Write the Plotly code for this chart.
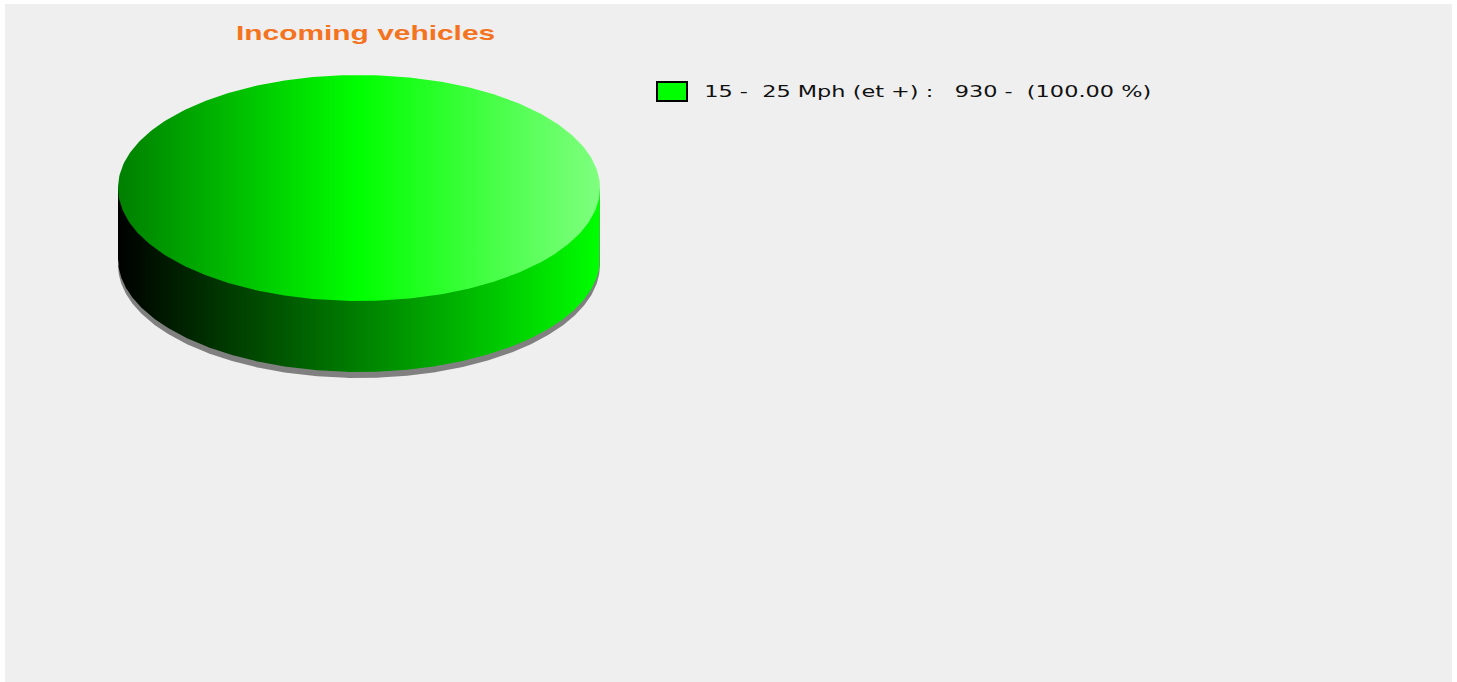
import numpy as np
import plotly.graph_objects as go

# --- data ---
categories = ["15 -  25 Mph (et +)"]
values = [930]
title_text = "Incoming vehicles"
slice_colors = ["#00ff00"]

# --- layout constants (pixels) ---
W, H = 1457, 682
CX, CY, RX, RY = 359, 188, 241, 113
DEPTH, SHADOW = 71, 6
TEXT_STRETCH = 1.495

total = sum(values)
shares = [v / total for v in values]


def arc(start, sweep, cy):
    t = np.linspace(start, start + sweep, 361)
    return CX + RX * np.cos(t), cy + RY * np.sin(t)


fig = go.Figure()
start = 0.0
for cat, share, col in zip(categories, shares, slice_colors):
    sweep = 2 * np.pi * share
    base = dict(mode="lines", line=dict(width=0), hoverinfo="skip",
                showlegend=False, fill="toself")

    # shadow under the disc
    bx, by = arc(0, np.pi, CY + DEPTH + SHADOW)
    fig.add_trace(go.Scatter(x=np.r_[bx, bx[0]], y=np.r_[by, CY], fillcolor="#808080", **base))

    # side wall
    sx, sy = arc(0, np.pi, CY + DEPTH)
    fig.add_trace(go.Scatter(
        x=np.r_[CX + RX, sx, CX - RX], y=np.r_[CY, sy, CY],
        fillgradient=dict(type="horizontal",
                          colorscale=[[0, "#000000"], [1, col]]),
        **base))

    # top face
    tx, ty = arc(start, sweep, CY)
    fig.add_trace(go.Scatter(
        x=tx, y=ty,
        fillgradient=dict(type="horizontal",
                          colorscale=[[0, "#007f00"], [0.5, col], [1, "#80ff80"]]),
        **base))
    start += sweep

fig.update_layout(
    width=W, height=H, autosize=False,
    margin=dict(l=0, r=0, t=0, b=0),
    paper_bgcolor="#ffffff", plot_bgcolor="#ffffff",
    xaxis=dict(range=[0, W], visible=False, fixedrange=True),
    yaxis=dict(range=[H, 0], visible=False, fixedrange=True),
    showlegend=False,
    shapes=[
        dict(type="rect", layer="below", x0=5, x1=1452, y0=4, y1=682,
             fillcolor="#efefef", line=dict(width=0)),
        dict(type="rect", x0=657, x1=687, y0=82, y1=101,
             fillcolor=slice_colors[0], line=dict(color="#000000", width=2)),
    ],
    annotations=[
        dict(x=234, y=33, xanchor="left", yanchor="middle", showarrow=False,
             text=f"<b>{title_text}</b>",
             font=dict(family="Liberation Sans", size=20, color="#f47320")),
        dict(x=702, y=92, xanchor="left", yanchor="middle", showarrow=False,
             text=f"{categories[0]} :   {values[0]} -  ({shares[0] * 100:.2f} %)".replace(" ", "\u00a0"),
             font=dict(family="DejaVu Sans", size=15, color="#111111")),
    ],
)

# the reference's text is stretched horizontally; keep it real text and widen it
post = """
document.body.style.margin = '0';
document.querySelectorAll('.annotation-text-g text').forEach(function (t) {
  var x = t.getBBox().x;
  t.setAttribute('transform',
    'translate(' + x + ',0) scale(%s,1) translate(' + (-x) + ',0)');
});
""" % TEXT_STRETCH

fig.write_html("out.html", config={"displayModeBar": False}, post_script=post)
